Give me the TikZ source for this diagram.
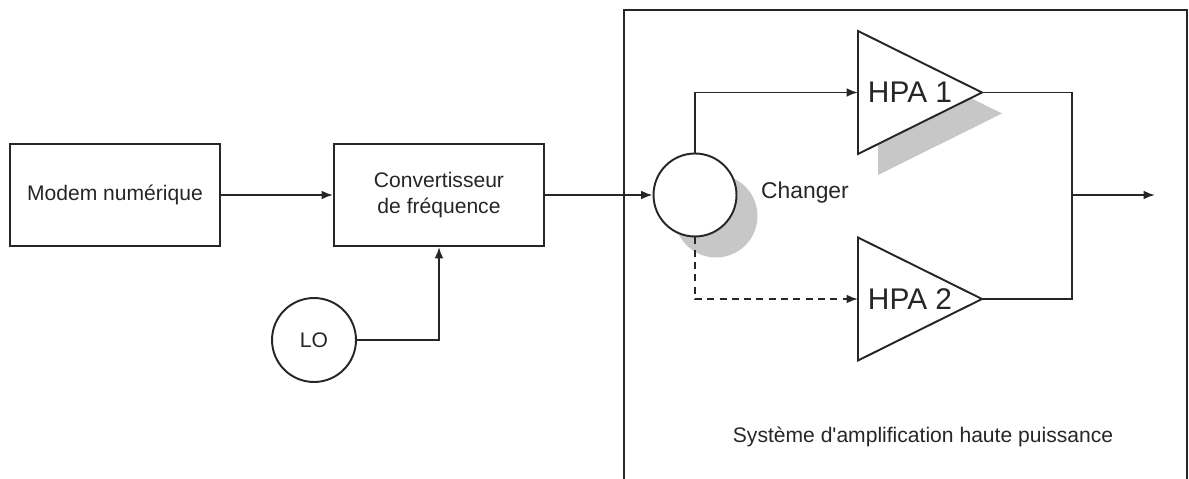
\documentclass[tikz,border=0pt]{standalone}
\usepackage{fontspec}
\setmainfont{Liberation Sans}
\usepackage{tikz}
\usetikzlibrary{arrows.meta, positioning}

\begin{document}
\begin{tikzpicture}[x=0.02cm, y=-0.02cm, line width=1.1pt, color=black!85,
        font=\fontsize{12}{15}\selectfont,
        bloc/.style={draw, rectangle, inner sep=0pt, align=center,
                     minimum width=4.2cm, minimum height=2.04cm},
        rond/.style={draw, circle, fill=white, inner sep=0pt, minimum size=#1},
        ombre/.style={fill=black!22},
        ampli/.style={draw, fill=white, line join=miter},
        fleche/.style={-{Latex[length=6.5pt, width=5pt]}},
        hpa/.style={font=\fontsize{17}{19}\selectfont, anchor=west, inner sep=0pt}]

        \useasboundingbox (0,0) rectangle (1189,479);

        \draw (624,500) -- (624,10) -- (1187,10) -- (1187,500);

        \node[bloc] (modem) at (115,195) {Modem numérique};
        \node[bloc] (conv) at (439,195) {Convertisseur\\de fréquence};
        \node[rond=1.68cm] (lo) at (314,340) {LO};

        \node[ombre, circle, inner sep=0pt, minimum size=1.66cm] (chgombre) at (716,216) {};
        \node[rond=1.66cm] (chg) at (695,195) {};
        \node[font=\fontsize{13}{15}\selectfont] (chglabel) at (805,193) {Changer};

        \fill[ombre] (878,52) -- (1002,113.5) -- (878,175) -- cycle;
        \draw[ampli] (858,31) -- (982,92.5) -- (858,154) -- cycle;
        \draw[ampli] (858,237.5) -- (982,299) -- (858,360.5) -- cycle;

        \node[hpa] (hpa1) at (867,92.5) {HPA 1};
        \node[hpa] (hpa2) at (867,299) {HPA 2};

        \coordinate (h1in) at (858,92.5);
        \coordinate (h1out) at (982,92.5);
        \coordinate (h2in) at (858,299);
        \coordinate (h2out) at (982,299);
        \coordinate (mrg) at (1072,195);
        \coordinate (sortie) at (1155,195);

        \node (systeme) at (923,437) {Système d\textquotesingle amplification haute puissance};

        \draw[fleche] (modem) -- (conv);
        \draw[fleche] (lo) -| (conv);
        \draw[fleche] (conv) -- (chg);
        \draw[fleche] (chg) |- (h1in);
        \draw[fleche, dash pattern=on 4pt off 3pt] (chg) |- (h2in);

        \draw (h1out) -| (mrg) |- (h2out);
        \draw[fleche] (mrg) -- (sortie);

\end{tikzpicture}
\end{document}
